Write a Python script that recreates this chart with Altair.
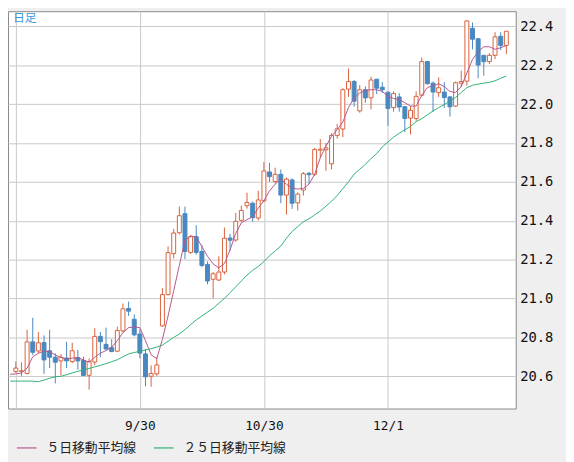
import altair as alt
import pandas as pd

# ---- data (daily candles, index 0..87) ----
opens = [20.625, 20.625, 20.614, 20.777, 20.730, 20.773, 20.731, 20.698, 20.679, 20.694,
         20.676, 20.696, 20.681, 20.605, 20.673, 20.805, 20.764, 20.747, 20.729, 20.833,
         20.949, 20.893, 20.817, 20.715, 20.600, 20.612, 20.859, 21.020, 21.231, 21.338,
         21.436, 21.237, 21.318, 21.242, 21.175, 21.099, 21.095, 21.136, 21.311, 21.301,
         21.402, 21.477, 21.490, 21.414, 21.503, 21.651, 21.602, 21.639, 21.532, 21.610,
         21.492, 21.558, 21.644, 21.639, 21.763, 21.765, 21.693, 21.839, 21.872, 22.077,
         22.116, 21.965, 22.074, 22.032, 22.128, 22.087, 22.061, 21.982, 22.037, 21.987,
         21.928, 21.926, 22.046, 22.219, 22.108, 22.059, 22.062, 22.037, 21.990, 22.108,
         22.118, 22.390, 22.336, 22.251, 22.219, 22.251, 22.349, 22.302]
highs = [20.676, 20.672, 20.839, 20.901, 20.827, 20.810, 20.839, 20.718, 20.714, 20.777,
         20.772, 20.735, 20.701, 20.692, 20.847, 20.828, 20.850, 20.791, 20.855, 20.974,
         20.984, 20.918, 20.842, 20.740, 20.656, 20.698, 21.053, 21.268, 21.358, 21.473,
         21.473, 21.327, 21.377, 21.276, 21.191, 21.136, 21.217, 21.365, 21.332, 21.440,
         21.478, 21.544, 21.499, 21.554, 21.702, 21.698, 21.673, 21.664, 21.622, 21.619,
         21.546, 21.651, 21.651, 21.775, 21.820, 21.800, 21.851, 21.898, 22.082, 22.183,
         22.124, 22.099, 22.091, 22.141, 22.130, 22.113, 22.066, 22.066, 22.057, 21.990,
         21.990, 22.066, 22.240, 22.222, 22.116, 22.138, 22.113, 22.042, 22.116, 22.172,
         22.430, 22.420, 22.340, 22.251, 22.262, 22.370, 22.370, 22.375]
lows = [20.617, 20.600, 20.610, 20.709, 20.718, 20.612, 20.642, 20.563, 20.605, 20.642,
        20.667, 20.634, 20.602, 20.531, 20.656, 20.698, 20.737, 20.724, 20.724, 20.825,
        20.910, 20.805, 20.693, 20.549, 20.546, 20.602, 20.854, 21.016, 21.206, 21.330,
        21.203, 21.230, 21.225, 21.161, 21.073, 21.001, 21.090, 21.124, 21.246, 21.293,
        21.394, 21.462, 21.394, 21.402, 21.495, 21.600, 21.592, 21.490, 21.432, 21.461,
        21.453, 21.529, 21.588, 21.630, 21.724, 21.657, 21.664, 21.822, 21.830, 22.037,
        21.987, 21.956, 22.007, 21.973, 22.052, 22.057, 21.889, 21.961, 21.961, 21.856,
        21.844, 21.914, 22.040, 22.100, 21.960, 22.037, 21.981, 21.936, 21.986, 22.088,
        22.095, 22.282, 22.133, 22.146, 22.206, 22.231, 22.278, 22.257]
closes = [20.642, 20.628, 20.777, 20.723, 20.772, 20.684, 20.698, 20.672, 20.698, 20.679,
          20.731, 20.679, 20.604, 20.676, 20.805, 20.778, 20.740, 20.727, 20.835, 20.947,
          20.935, 20.813, 20.719, 20.597, 20.614, 20.658, 21.020, 21.236, 21.337, 21.426,
          21.242, 21.318, 21.237, 21.170, 21.090, 21.127, 21.136, 21.310, 21.300, 21.397,
          21.453, 21.494, 21.416, 21.507, 21.656, 21.627, 21.639, 21.532, 21.614, 21.490,
          21.537, 21.642, 21.637, 21.766, 21.768, 21.775, 21.839, 21.873, 22.074, 22.116,
          22.015, 22.074, 22.032, 22.124, 22.082, 22.074, 21.978, 22.054, 21.985, 21.926,
          21.968, 22.040, 22.219, 22.105, 22.062, 22.084, 22.034, 21.986, 22.110, 22.116,
          22.428, 22.334, 22.201, 22.218, 22.251, 22.346, 22.302, 22.375]

# moving averages (index -1 .. 87)
ma_index = list(range(-1, 88))
ma5 = [20.610,
       20.612, 20.617, 20.642, 20.700, 20.718, 20.730, 20.726, 20.710, 20.696, 20.689,
       20.693, 20.696, 20.684, 20.672, 20.698, 20.719, 20.732, 20.749, 20.783, 20.825,
       20.850, 20.854, 20.850, 20.783, 20.710, 20.690, 20.790, 20.910, 21.040, 21.170,
       21.300, 21.321, 21.318, 21.267, 21.217, 21.178, 21.158, 21.180, 21.250, 21.335,
       21.389, 21.406, 21.420, 21.465, 21.503, 21.554, 21.588, 21.614, 21.588, 21.568,
       21.563, 21.566, 21.588, 21.639, 21.724, 21.783, 21.834, 21.868, 21.908, 21.982,
       22.032, 22.057, 22.071, 22.074, 22.074, 22.066, 22.040, 22.029, 22.024, 22.007,
       21.990, 21.990, 22.045, 22.085, 22.095, 22.105, 22.090, 22.065, 22.060, 22.090,
       22.160, 22.230, 22.270, 22.295, 22.295, 22.282, 22.290, 22.302]
ma25 = [20.575,
        20.575, 20.575, 20.575, 20.575, 20.572, 20.580, 20.590, 20.597, 20.600, 20.608,
        20.617, 20.625, 20.633, 20.640, 20.648, 20.656, 20.665, 20.675, 20.685, 20.700,
        20.715, 20.722, 20.728, 20.735, 20.742, 20.750, 20.760, 20.780, 20.800, 20.817,
        20.840, 20.865, 20.890, 20.910, 20.930, 20.950, 20.975, 21.000, 21.030, 21.060,
        21.090, 21.120, 21.145, 21.165, 21.190, 21.220, 21.245, 21.270, 21.310, 21.345,
        21.370, 21.395, 21.410, 21.430, 21.450, 21.475, 21.500, 21.530, 21.565, 21.600,
        21.640, 21.665, 21.690, 21.720, 21.745, 21.780, 21.805, 21.830, 21.850, 21.868,
        21.885, 21.910, 21.925, 21.945, 21.965, 21.982, 21.998, 22.015, 22.035, 22.060,
        22.085, 22.097, 22.103, 22.108, 22.112, 22.120, 22.133, 22.145]

grid_idx = [0, 22, 44, 66]
grid_labels = ["", "9/30", "10/30", "12/1"]
y_ticks = [20.6, 20.8, 21.0, 21.2, 21.4, 21.6, 21.8, 22.0, 22.2, 22.4]
series_names = ["５日移動平均線", "２５日移動平均線"]
panel_label = ["日足"]

# ---- styles ----
RED = "#d9623c"
BLUE = "#4a88c0"
PINK = "#b5578c"
GREEN = "#2fb274"
GRID = "#c8c8c8"

candles = pd.DataFrame({"i": list(range(len(closes))), "open": opens, "high": highs,
                        "low": lows, "close": closes})
ma_df = pd.concat([
    pd.DataFrame({"i": ma_index, "value": ma5, "series": series_names[0]}),
    pd.DataFrame({"i": ma_index, "value": ma25, "series": series_names[1]}),
])

label_expr = " : ".join(
    [f"datum.value == {v} ? '{t}'" for v, t in zip(grid_idx, grid_labels)]) + " : ''"

xscale = alt.Scale(domain=[-0.514, 87.79], nice=False, zero=False)
yscale = alt.Scale(domain=[20.434, 22.478], nice=False, zero=False)

x_axis = alt.Axis(values=grid_idx, labelExpr=label_expr, grid=True, gridColor=GRID,
                  ticks=False, domain=False, labelFont="DejaVu Sans Mono", labelFontSize=13,
                  labelColor="#111111", labelPadding=11, labelFlush=False, title="")
y_axis = alt.Axis(values=y_ticks, format=".1f", orient="right", grid=True, gridColor=GRID,
                  ticks=False, domain=False, labelFont="DejaVu Sans Mono", labelFontSize=14,
                  labelColor="#111111", labelPadding=4, labelBaseline="middle", title="")

up = "datum.close >= datum.open"

wicks = alt.Chart(candles).mark_rule(strokeWidth=1, clip=True).encode(
    x=alt.X("i:Q", scale=xscale, axis=x_axis),
    y=alt.Y("low:Q", scale=yscale, axis=y_axis),
    y2="high:Q",
    color=alt.condition(up, alt.value(RED), alt.value(BLUE)),
)

bodies = alt.Chart(candles).mark_bar(size=4, strokeWidth=1, clip=True).encode(
    x=alt.X("i:Q", scale=xscale),
    y=alt.Y("open:Q", scale=yscale),
    y2="close:Q",
    fill=alt.condition(up, alt.value("white"), alt.value(BLUE)),
    stroke=alt.condition(up, alt.value(RED), alt.value(BLUE)),
)

lines = alt.Chart(ma_df).mark_line(strokeWidth=1, clip=True).encode(
    x=alt.X("i:Q", scale=xscale),
    y=alt.Y("value:Q", scale=yscale),
    color=alt.Color("series:N", sort=series_names,
                    scale=alt.Scale(domain=series_names, range=[PINK, GREEN]),
                    legend=alt.Legend(orient="none", legendX=8, legendY=432,
                                      direction="horizontal", symbolType="stroke",
                                      symbolSize=400, symbolStrokeWidth=1.2,
                                      labelFont="Noto Sans CJK JP", labelFontSize=13,
                                      labelColor="#222222", labelOffset=9,
                                      columnPadding=14, padding=0, title=None)),
)

label = alt.Chart(pd.DataFrame({"t": panel_label})).mark_text(
    align="left", baseline="middle", fontSize=12, font="Noto Sans CJK JP", color="#3a9ad9"
).encode(x=alt.value(5), y=alt.value(7), text="t:N")

chart = alt.layer(wicks, bodies, lines, label).properties(
    width=515, height=403,
    autosize=alt.AutoSizeParams(type="none"),
    padding={"left": 0, "top": 0, "right": 51, "bottom": 51},
    background="#efefef",
).configure_view(fill="white", stroke="#888888", strokeWidth=1)

chart.save("out.html", embed_options={"renderer": "svg", "actions": False})
